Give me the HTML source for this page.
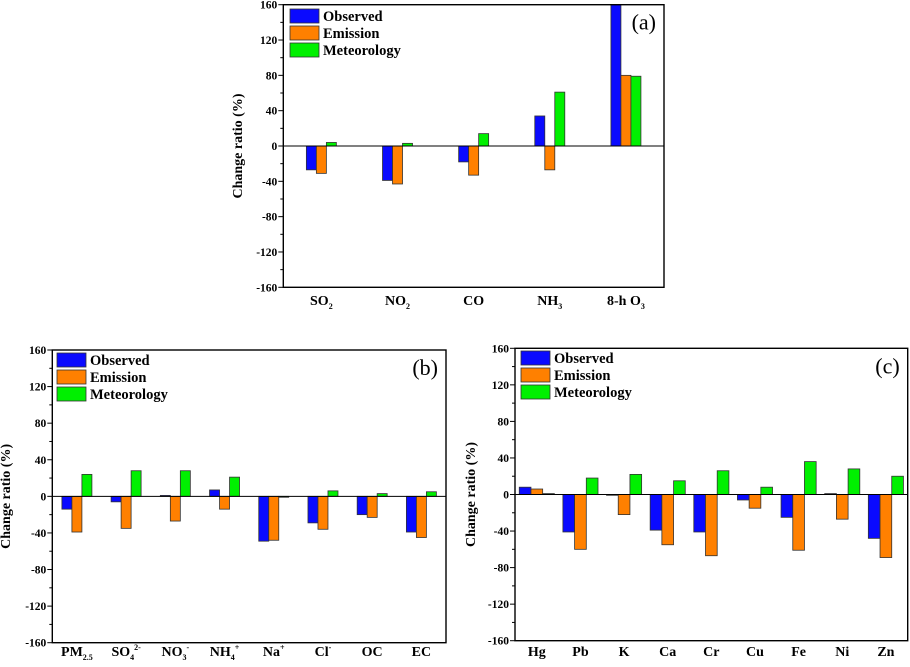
<!DOCTYPE html>
<html><head><meta charset="utf-8"><style>
html,body{margin:0;padding:0;background:#fff;}
svg, svg text{font-family:"Liberation Serif","Times New Roman",serif;}
</style></head><body>
<svg id="fig" width="910" height="662" viewBox="0 0 910 662" xmlns="http://www.w3.org/2000/svg" font-family="Liberation Serif, serif"></svg>
<script>
const seriesNames = ["Observed","Emission","Meteorology"];
const seriesColors = ["#0a0aff","#ff8000","#00f000"];
const yTicks = [160,120,80,40,0,-40,-80,-120,-160];

const catsA = ["SO|2|","NO|2|","CO","NH|3|","8-h O|3|"];
const obsA = [-27,-39,-18,34,160];
const emiA = [-31,-43,-33,-27,80];
const metA = [4,3,14,61,79];

const catsB = ["PM|2.5|","SO|4|2-","NO|3|-","NH|4|+","Na||+","Cl||-","OC","EC"];
const obsB = [-14,-6,1,7,-49,-29,-20,-39];
const emiB = [-39,-35,-27,-14,-48,-36,-23,-45];
const metB = [24,28,28,21,-1,6,3,5];

const catsC = ["Hg","Pb","K","Ca","Cr","Cu","Fe","Ni","Zn"];
const obsC = [8,-41,0,-39,-41,-6,-25,1,-48];
const emiC = [6,-60,-22,-55,-67,-15,-61,-27,-69];
const metC = [1,18,22,15,26,8,36,28,20];

const NS="http://www.w3.org/2000/svg";
const svg=document.getElementById('fig');
function mk(tag,attrs,parent){const e=document.createElementNS(NS,tag);for(const k in attrs)e.setAttribute(k,attrs[k]);if(tag==='text')e.setAttribute('font-family','Liberation Serif, serif');(parent||svg).appendChild(e);return e;}

function panel(id,L,R,T,B,cats,series,bw,letter,titleX,legX,legY,labY){
  const g=mk('g',{});
  
  
  const y=v=>T+(160-Math.max(-160,Math.min(160,v)))/320*(B-T);
  const gw=(R-L)/cats.length;
  const x=i=>L+gw*(i+0.5);
  yTicks.forEach(t=>{
    const ty=y(t);
    const tk=mk('line',{x1:L-5,x2:L,y1:ty,y2:ty,stroke:'#000','stroke-width':1},g);
    
    
    const lb=mk('text',{x:L-6,y:ty+4,'text-anchor':'end','font-size':11.5,'font-weight':'bold'},g);
    lb.textContent=t;
    
    
    if(t>-160){const my=y(t-20);mk('line',{x1:L-3,x2:L,y1:my,y2:my,stroke:'#000','stroke-width':1},g);}
  });
  cats.forEach((c,i)=>{
    series.forEach((s,k)=>{
      const v=s[i];const y0=y(0),y1=y(v);
      const r=mk('rect',{x:x(i)+(k-1.5)*bw,y:Math.min(y0,y1),width:bw,height:Math.max(0.8,Math.abs(y1-y0)),fill:seriesColors[k],stroke:'#333','stroke-width':0.8},g);
      
      
    });
    const parts=c.split('|');
    const t=mk('text',{x:x(i),y:labY,'text-anchor':'middle','font-size':14,'font-weight':'bold'},g);
    
    
    const a=mk('tspan',{},t);a.textContent=parts[0];
    if(parts.length>1){
      if(parts[1]){const s=mk('tspan',{'font-size':8,dy:4},t);s.textContent=parts[1];}
      if(parts[2]){const s=mk('tspan',{'font-size':8,dy:parts[1]?-10:-6},t);s.textContent=parts[2];}
    }
  });
  mk('line',{x1:L,x2:R,y1:y(0),y2:y(0),stroke:'#000','stroke-width':1},g);
  const fr=mk('rect',{x:L,y:T,width:R-L,height:B-T,fill:'none',stroke:'#000','stroke-width':1.4},g);
  
  
  const yt=mk('text',{x:titleX,y:(T+B)/2,'text-anchor':'middle','font-size':14,'font-weight':'bold',transform:`rotate(-90 ${titleX} ${(T+B)/2})`},g);
  yt.textContent='Change ratio (%)';
  
  
  seriesNames.forEach((n,k)=>{
    const ly=legY+k*17;
    const r=mk('rect',{x:legX,y:ly,width:29,height:14,fill:seriesColors[k],stroke:'#333','stroke-width':0.8},g);
    
    
    const t=mk('text',{x:legX+33,y:ly+12,'font-size':14.5,'font-weight':'bold'},g);
    t.textContent=n;
    
    
  });
  const pl=mk('text',{x:R-8,y:T+25,'text-anchor':'end','font-size':22},g);
  pl.textContent=letter;
  
  
}
panel('a',283.3,664,4.7,287.3,catsA,[obsA,emiA,metA],10,'(a)',242,290,9,305);
panel('b',52.3,446,350,642.7,catsB,[obsB,emiB,metB],10,'(b)',10,57,353,656);
panel('c',515,907.7,348.3,640.7,catsC,[obsC,emiC,metC],11.7,'(c)',475,521,351,656);
</script>
</body></html>
